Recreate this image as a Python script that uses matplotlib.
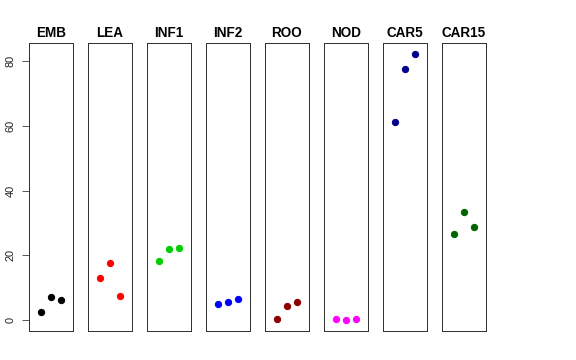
import matplotlib
matplotlib.use("Agg")
import matplotlib.pyplot as plt

plt.rcParams['font.family'] = ['Liberation Sans', 'DejaVu Sans']

tissues = ["EMB", "LEA", "INF1", "INF2", "ROO", "NOD", "CAR5", "CAR15"]
colors = ["#000000", "#FF0000", "#00CD00", "#0000FF", "#8B0000", "#FF00FF", "#00008B", "#006400"]
emb = [2.6, 7.2, 6.3]
lea = [13.1, 17.7, 7.5]
inf1 = [18.3, 22.0, 22.2]
inf2 = [5.1, 5.6, 6.7]
roo = [0.3, 4.5, 5.7]
nod = [0.3, 0.0, 0.3]
car5 = [61.1, 77.5, 82.2]
car15 = [26.6, 33.5, 28.8]
values = [emb, lea, inf1, inf2, roo, nod, car5, car15]
reps = [1, 2, 3]
yticks = [0, 20, 40, 60, 80]

W, H = 576, 360
fig = plt.figure(figsize=(W / 72, H / 72), dpi=72)

ymin, ymax = -3.3, 85.5
for i, (name, col, vals) in enumerate(zip(tissues, colors, values)):
    left = 29 + 59 * i
    ax = fig.add_axes([left / W, (H - 331) / H, 44 / W, 288 / H])
    ax.plot(reps, vals, 'o', color=col, markersize=6.3, linestyle='none')
    ax.set_xlim(-0.16, 4.16)
    ax.set_ylim(ymin, ymax)
    ax.set_xticks([])
    ax.set_title(name, fontsize=13.5, fontweight='bold', pad=6)
    for s in ax.spines.values():
        s.set_linewidth(1.0)
        s.set_color('#333333')
    if i == 0:
        ax.set_yticks(yticks)
        ax.set_yticklabels([str(t) for t in yticks], rotation=90, va='center', fontsize=11)
        ax.tick_params(axis='y', length=7, width=0.8, pad=6, colors='#333333', labelcolor='#222222')
    else:
        ax.set_yticks([])

fig.savefig("out.png", dpi=72)
